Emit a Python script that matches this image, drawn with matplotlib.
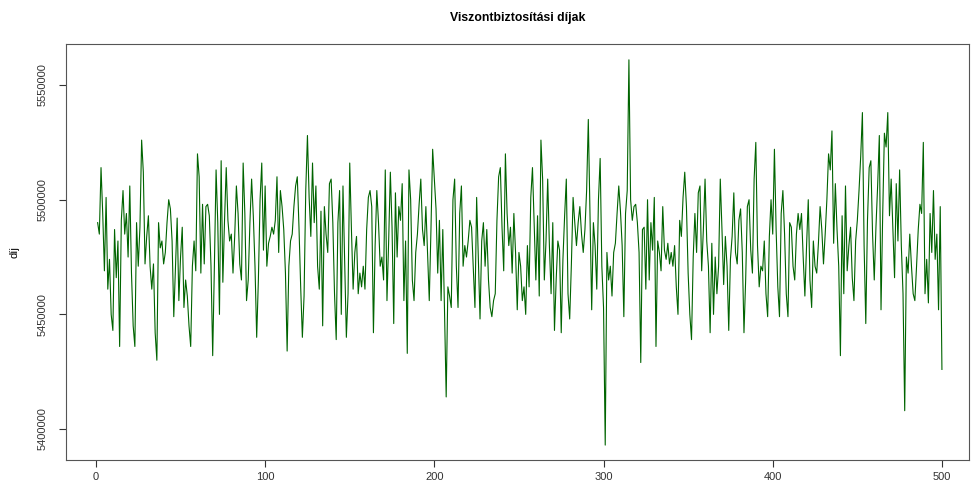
import numpy as np
import matplotlib
matplotlib.use("Agg")
import matplotlib.pyplot as plt

plt.rcParams['font.family'] = ['Liberation Sans', 'DejaVu Sans']

# values, in thousands, in segments of ~47 points
seg1 = [5490, 5485, 5514, 5494, 5469, 5501, 5461, 5474, 5450, 5443, 5487, 5466, 5482, 5436, 5491,
        5504, 5485, 5494, 5475, 5506, 5468, 5445, 5436, 5490, 5471, 5488, 5526, 5512, 5472, 5484,
        5493, 5471, 5461, 5472, 5442, 5430, 5490, 5479, 5482, 5472, 5477, 5490, 5500]
seg2 = [5496, 5482, 5449, 5471, 5492, 5456, 5475, 5488, 5453, 5465, 5458, 5445, 5436, 5471, 5482,
        5469, 5520, 5510, 5468, 5498, 5472, 5497, 5498, 5493, 5471, 5432, 5471, 5513, 5490, 5450,
        5517, 5464, 5491, 5514, 5491, 5482, 5485, 5468, 5484, 5506, 5494, 5472, 5465, 5516, 5494,
        5456, 5465]
seg3 = [5490, 5509, 5493, 5471, 5440, 5465, 5500, 5516, 5478, 5506, 5471, 5481, 5484, 5488, 5485,
        5491, 5510, 5477, 5504, 5497, 5487, 5468, 5434, 5471, 5482, 5485, 5497, 5506, 5510, 5488,
        5462, 5440, 5458, 5504, 5528, 5501, 5484, 5516, 5490, 5506, 5471, 5461, 5495, 5445, 5497,
        5485, 5477, 5507]
seg4 = [5509, 5490, 5459, 5439, 5490, 5504, 5450, 5506, 5474, 5440, 5459, 5516, 5487, 5461, 5477,
        5484, 5459, 5468, 5462, 5471, 5461, 5487, 5501, 5504, 5497, 5442, 5480, 5504, 5490, 5471,
        5475, 5465, 5513, 5456, 5482, 5512, 5488, 5446, 5503, 5475, 5497, 5491, 5507, 5456, 5482,
        5433, 5513]
seg5 = [5500, 5465, 5456, 5477, 5485, 5498, 5509, 5487, 5480, 5497, 5477, 5456, 5487, 5522, 5509,
        5496, 5468, 5491, 5456, 5487, 5452, 5414, 5462, 5458, 5453, 5500, 5509, 5471, 5453, 5494,
        5506, 5471, 5480, 5475, 5482, 5491, 5488, 5471, 5453, 5501, 5475, 5448, 5482, 5490, 5471,
        5487, 5465]
seg6 = [5453, 5449, 5456, 5459, 5491, 5510, 5514, 5488, 5469, 5520, 5494, 5480, 5488, 5468, 5494,
        5477, 5452, 5477, 5471, 5456, 5462, 5450, 5480, 5462, 5501, 5514, 5490, 5465, 5493, 5458,
        5526, 5509, 5465, 5482, 5509, 5480, 5459, 5490, 5443, 5465, 5482, 5478, 5442, 5474, 5493,
        5509, 5459, 5448]
seg7 = [5472, 5501, 5490, 5480, 5490, 5497, 5485, 5477, 5487, 5504, 5535, 5494, 5452, 5490, 5480,
        5461, 5500, 5518, 5471, 5453, 5393, 5477, 5465, 5471, 5458, 5477, 5481, 5494, 5506, 5495,
        5480, 5449, 5494, 5504, 5561, 5500, 5491, 5497, 5498, 5490, 5477, 5429, 5487, 5488, 5461,
        5500, 5465]
seg8 = [5490, 5478, 5501, 5436, 5482, 5477, 5469, 5497, 5478, 5474, 5481, 5472, 5477, 5471, 5480,
        5462, 5450, 5491, 5484, 5501, 5512, 5497, 5468, 5450, 5439, 5475, 5494, 5477, 5503, 5506,
        5469, 5487, 5509, 5482, 5471, 5442, 5481, 5450, 5475, 5459, 5471, 5509, 5487, 5463, 5484,
        5471, 5443]
seg9 = [5474, 5484, 5503, 5477, 5472, 5491, 5496, 5477, 5442, 5465, 5497, 5500, 5478, 5468, 5509,
        5525, 5480, 5462, 5471, 5469, 5482, 5459, 5449, 5484, 5500, 5485, 5522, 5487, 5462, 5449,
        5494, 5504, 5485, 5459, 5449, 5490, 5488, 5471, 5465, 5485, 5494, 5487, 5494, 5475, 5458,
        5480, 5500]
seg10 = [5465, 5453, 5482, 5471, 5468, 5481, 5497, 5487, 5472, 5485, 5500, 5520, 5513, 5530, 5481,
         5507, 5487, 5471, 5432, 5493, 5459, 5506, 5469, 5480, 5488, 5466, 5456, 5482, 5491, 5504,
         5519, 5538, 5480, 5446, 5491, 5514, 5517, 5485, 5465, 5488, 5506, 5528, 5452, 5494, 5529,
         5523, 5538, 5493]
seg11 = [5509, 5487, 5466, 5507, 5482, 5513, 5480, 5459, 5408, 5475, 5468, 5485, 5471, 5459, 5456,
         5471, 5487, 5498, 5494, 5525, 5459, 5474, 5455, 5494, 5477, 5504, 5474, 5485, 5452, 5497,
         5426]

dij = np.array(seg1 + seg2 + seg3 + seg4 + seg5 + seg6 + seg7 + seg8 + seg9 + seg10 + seg11) * 1000
idx = np.arange(1, len(dij) + 1)

xticks = [0, 100, 200, 300, 400, 500]
yticks = [5400000, 5450000, 5500000, 5550000]

fig = plt.figure(figsize=(9.71, 4.95), dpi=100)
ax = fig.add_axes([66 / 971, 35 / 495, 903 / 971, 416 / 495])

ax.plot(idx, dij, color='#006400', lw=0.8)

ax.set_xlim(-17.7, 516)
ax.set_ylim(5386500, 5567900)
ax.set_xticks(xticks)
ax.set_xticklabels([str(t) for t in xticks])
ax.set_yticks(yticks)
ax.set_yticklabels([str(t) for t in yticks], rotation=90, va='center')

ax.tick_params(axis='both', direction='out', length=5, width=0.8, colors='#333333', labelsize=8)
ax.tick_params(axis='x', pad=4)
ax.tick_params(axis='y', pad=8)
for s in ax.spines.values():
    s.set_color('#555555')
    s.set_linewidth(0.8)

fig.text(517.5 / 971, 1 - 18 / 495, 'Viszontbiztosítási díjak', ha='center', va='center',
         fontsize=8.8, fontweight='bold')
fig.text(14 / 971, 1 - 252 / 495, 'díj', rotation=90, ha='center', va='center', fontsize=8)

fig.savefig('out.png', dpi=100)
